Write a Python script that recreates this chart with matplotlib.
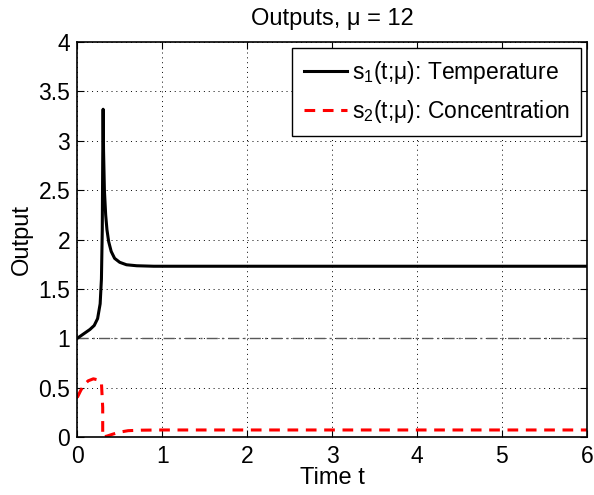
import matplotlib
matplotlib.use("Agg")
import matplotlib.pyplot as plt

plt.rcParams['font.family'] = ['Liberation Sans', 'DejaVu Sans']
plt.rcParams['mathtext.fontset'] = 'custom'
plt.rcParams['mathtext.rm'] = 'Liberation Sans'
plt.rcParams['mathtext.default'] = 'regular'

# temperature output s1(t)
t_temp = [0.0, 0.05, 0.1, 0.15, 0.2, 0.24, 0.27, 0.285, 0.295, 0.30, 0.305, 0.31,
          0.32, 0.335, 0.35, 0.37, 0.4, 0.44, 0.5, 0.58, 0.7, 0.9, 6.0]
s_temp = [1.0, 1.03, 1.06, 1.09, 1.13, 1.2, 1.35, 1.6, 2.1, 2.8, 3.32, 2.9,
          2.5, 2.25, 2.1, 1.98, 1.88, 1.81, 1.77, 1.745, 1.735, 1.73, 1.73]

# concentration output s2(t)
t_conc = [0.0, 0.04, 0.08, 0.13, 0.19, 0.24, 0.285, 0.30, 0.30, 0.35, 0.42, 0.5,
          0.6, 0.75, 1.0, 6.0]
s_conc = [0.4, 0.47, 0.53, 0.57, 0.59, 0.58, 0.55, 0.3, 0.0, 0.01, 0.03, 0.05,
          0.065, 0.07, 0.072, 0.072]

x_ticks = [0, 1, 2, 3, 4, 5, 6]
y_ticks = [0, 0.5, 1, 1.5, 2, 2.5, 3, 3.5, 4]
y_tick_labels = ['0', '0.5', '1', '1.5', '2', '2.5', '3', '3.5', '4']

fig = plt.figure(figsize=(5.94, 4.95), dpi=100)
ax = fig.add_axes([0.13, 0.117, 0.858, 0.798])

ax.axhline(1.0, color='0.35', lw=1, ls=(0, (8, 3, 1.5, 3)))
ax.plot(t_temp, s_temp, color='black', lw=2.2, label=r's$_1$(t;μ): Temperature')
ax.plot(t_conc, s_conc, color='red', lw=2.2, ls=(0, (3.5, 2.5)),
        label=r's$_2$(t;μ): Concentration')

ax.set_xlim(0, 6)
ax.set_ylim(0, 4)
ax.set_xticks(x_ticks)
ax.set_yticks(y_ticks)
ax.set_yticklabels(y_tick_labels)
ax.tick_params(direction='in', top=True, right=True, labelsize=16.5, length=5)
ax.tick_params(axis='x', pad=6)
ax.tick_params(axis='y', pad=5)
ax.grid(True, ls=(0, (1, 4)), color='black', lw=0.7)
for sp in ax.spines.values():
    sp.set_linewidth(1.2)

ax.set_xlabel('Time t', fontsize=17, labelpad=-1)
ax.set_ylabel('Output', fontsize=17, labelpad=4)
ax.set_title('Outputs, μ = 12', fontsize=17, pad=12)

leg = ax.legend(loc='upper right', fontsize=16.5, fancybox=False, framealpha=1,
                edgecolor='black', handlelength=1.9, borderaxespad=0.25,
                handletextpad=0.2, borderpad=0.5, labelspacing=0.5)
leg.get_frame().set_linewidth(1.0)

fig.savefig('out.png', dpi=100)
